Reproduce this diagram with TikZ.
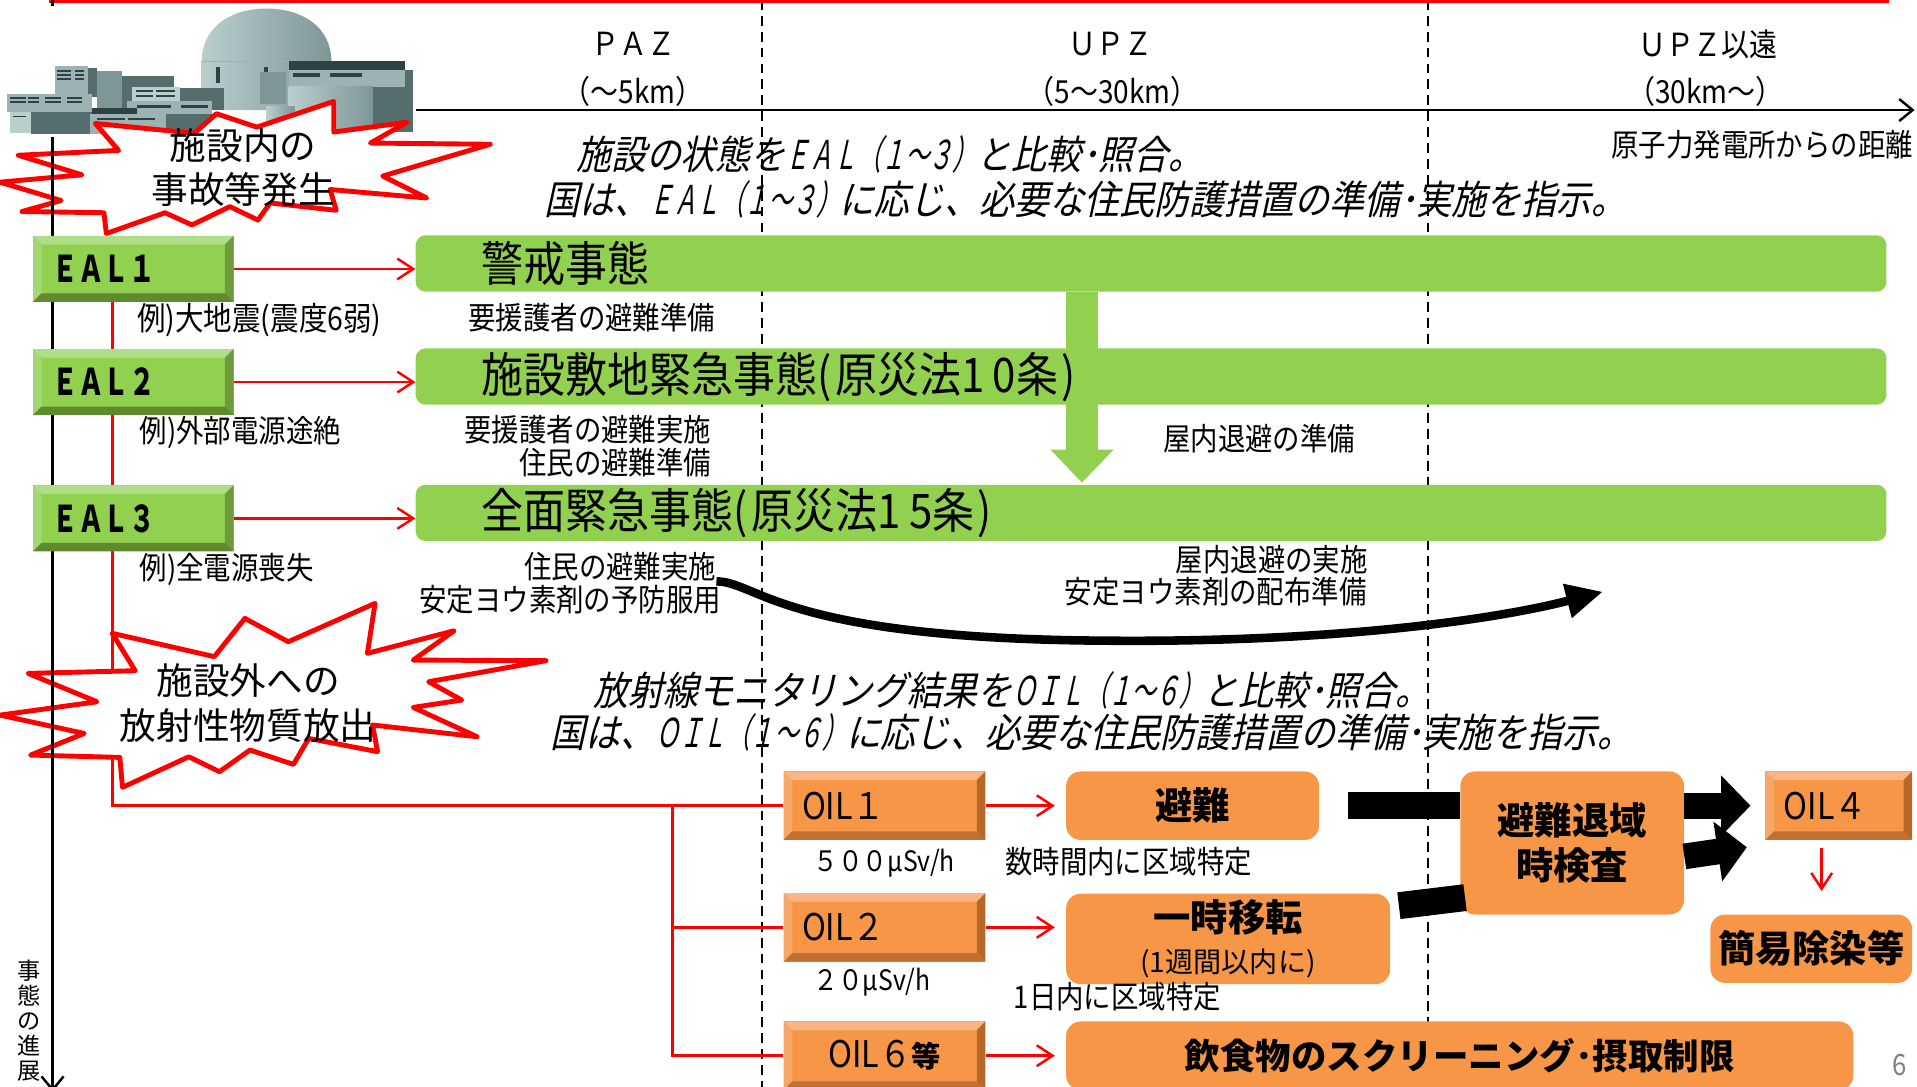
\documentclass[tikz,border=0pt]{standalone}
\usepackage{fontspec}
\setmainfont{Noto Sans CJK JP}[FakeStretch=0.88]
\newfontfamily\jpwide{Noto Sans CJK JP}
\newfontfamily\jpnarrow{Noto Sans CJK JP}[FakeStretch=0.7]
\newfontfamily\jpslant{Noto Sans CJK JP}[FakeStretch=0.88,FakeSlant=0.22]
\newfontfamily\jpslantn{Noto Sans CJK JP}[FakeStretch=0.6,FakeSlant=0.22]
\usetikzlibrary{arrows.meta}
\pgfdeclarelayer{bg}
\pgfsetlayers{bg,main}
\newcommand\sz[2]{\fontsize{#1}{#2}\selectfont}
% colours
\definecolor{barg}{HTML}{92D050}
\definecolor{ealtop}{HTML}{B0DE88}
\definecolor{ealleft}{HTML}{A4D672}
\definecolor{ealright}{HTML}{6E9B3C}
\definecolor{ealbot}{HTML}{5F8A30}
\definecolor{oilface}{HTML}{F79646}
\definecolor{oiltop}{HTML}{FAB585}
\definecolor{oilleft}{HTML}{F9A66A}
\definecolor{oilright}{HTML}{B8692A}
\definecolor{oilbot}{HTML}{C07030}
\definecolor{pl1}{HTML}{BACECE}
\definecolor{pl2}{HTML}{9DB2B2}
\definecolor{pl3}{HTML}{7E9696}
\definecolor{pl4}{HTML}{566D6D}
\definecolor{pl5}{HTML}{2F4242}
\tikzset{
  bevel/.style n args={5}{fill=#1,path picture={
    \fill[#2] (path picture bounding box.north west) -- (path picture bounding box.north east)
      -- ([shift={(-7pt,-7pt)}]path picture bounding box.north east) -- ([shift={(7pt,-7pt)}]path picture bounding box.north west) -- cycle;
    \fill[#3] (path picture bounding box.north west) -- ([shift={(7pt,-7pt)}]path picture bounding box.north west)
      -- ([shift={(7pt,7pt)}]path picture bounding box.south west) -- (path picture bounding box.south west) -- cycle;
    \fill[#4] (path picture bounding box.north east) -- ([shift={(-7pt,-7pt)}]path picture bounding box.north east)
      -- ([shift={(-7pt,7pt)}]path picture bounding box.south east) -- (path picture bounding box.south east) -- cycle;
    \fill[#5] (path picture bounding box.south west) -- ([shift={(7pt,7pt)}]path picture bounding box.south west)
      -- ([shift={(-7pt,7pt)}]path picture bounding box.south east) -- (path picture bounding box.south east) -- cycle;
  }},
}
\begin{document}
\begin{tikzpicture}[x=1pt,y=-1pt,
  ealbox/.style={bevel={barg}{ealtop}{ealleft}{ealright}{ealbot},minimum height=54pt,text width=132pt,inner xsep=16pt,inner ysep=0pt,align=left,font=\jpnarrow\bfseries\sz{30}{32}},
  oilbox/.style={bevel={oilface}{oiltop}{oilleft}{oilright}{oilbot},minimum height=56pt,text width=135pt,inner xsep=15pt,inner ysep=0pt,align=left,font=\sz{30}{32}},
  bar/.style={fill=barg,rounded corners=8pt,minimum height=46pt,text width=1095pt,inner xsep=54pt,inner ysep=0pt,align=left,font=\sz{39}{42}},
  act/.style={fill=oilface,rounded corners=12pt,inner sep=0pt,align=center,font=\jpwide\bfseries\sz{30.5}{37}},
  note/.style={inner sep=0pt,font=\sz{25.5}{30}},
  zonelbl/.style={inner sep=0pt,font=\sz{26}{30}},
  slantnote/.style={inner sep=0pt,anchor=west,font=\jpslant\sz{32.5}{36}},
  burst/.style={fill=white,draw=red,line width=4pt,line join=round},
  burstlbl/.style={inner sep=0pt,align=center,font=\jpwide\sz{30}{36.5}},
  redline/.style={red,line width=2pt},
  redarrow/.style={redline,-{Straight Barb[length=13pt,width=17pt]}},
  axisline/.style={line width=2pt},
  zone/.style={line width=1.5pt,dash pattern=on 8pt off 5pt},
  blk/.style={line width=22pt},
  blkarrow/.style={line width=21pt,-{Triangle[length=24pt,width=48pt]}},
  garrow/.style={draw=barg,line width=26pt,-{Triangle[length=27pt,width=50pt]}},
  curvearrow/.style={line width=7pt,-{Triangle[length=30pt,width=27pt]}}]
  \useasboundingbox (0,0) rectangle (1568,889);

  %plant
  \shade[left color=pl1,right color=pl3] (165,90) -- (165,50) .. controls (165,22) and (189,7) .. (218,7)
     .. controls (247,7) and (271,22) .. (271,50) -- (271,90) -- cycle;
  \draw[pl2,line width=1pt] (165,50) -- (271,50);
  \fill[pl5] (177,55) rectangle (180,68);
  \fill[pl5] (216,55) rectangle (219,68);
  \fill[pl2] (236,57) rectangle (331,71);
  \fill[pl5] (236,50) rectangle (331,57);
  \fill[pl5] (240,60) rectangle (262,63);
  \fill[pl5] (270,60) rectangle (296,63);
  \fill[pl4] (331,57) rectangle (338,108);
  \shade[left color=pl1,right color=pl3] (236,71) rectangle (305,108);
  \fill[pl4] (305,71) rectangle (331,108);
  \fill[pl3] (213,59) rectangle (234,85);
  \shade[left color=pl1,right color=pl3] (218,87) rectangle (241,108);
  \fill[pl2] (45,54) rectangle (72,79);
  \fill[pl4] (72,56) rectangle (79,79);
  \foreach \y in {57,60.5,64} {
    \fill[pl5] (47,\y) rectangle (58,\y+1.5);
    \fill[pl5] (61,\y) rectangle (69,\y+1.5);
  }
  \fill[pl3] (79,58) rectangle (100,90);
  \fill[pl4] (100,62) rectangle (142,90);
  \fill[pl1] (108,71) rectangle (147,83);
  \fill[pl4] (147,72) rectangle (183,90);
  \foreach \y in {74,77.5} {
    \fill[pl5] (111,\y) rectangle (125,\y+1.5);
    \fill[pl5] (128,\y) rectangle (143,\y+1.5);
  }
  \fill[pl2] (104,83) rectangle (173,94);
  \fill[pl5] (112,86) rectangle (140,88);
  \fill[pl5] (148,86) rectangle (170,88);
  \fill[pl2] (6,77) rectangle (75,92);
  \foreach \a/\b in {8/21,23/32,37/50,55/67} {
    \fill[pl5] (\a,79.5) rectangle (\b,81);
    \fill[pl5] (\a,83) rectangle (\b,84.5);
  }
  \fill[pl4] (25,92) rectangle (75,110);
  \fill[pl1] (8,92) rectangle (25,109);
  \fill[pl5] (11,94.5) rectangle (21,96);
  \fill[pl5] (75,88) rectangle (112,93);
  \fill[pl2] (74,93) rectangle (136,110);
  \fill[pl5] (79,96.5) rectangle (102,98.5);
  \fill[pl5] (105,96.5) rectangle (127,98.5);
  \fill[pl4] (136,93) rectangle (173,108);

  %top rule
  \draw[red,line width=4.5pt] (40,0) -- (1545,0);

  %incident inside the plant
  \draw[burst] (78,101) -- (97,123) -- (15,127) -- (67,143) -- (0,149) -- (50,164) -- (18,173) -- (85,174)
     -- (87,191) -- (135,174) -- (157,184) -- (188,169) -- (211,180) -- (221,166) -- (275,172) -- (270,155)
     -- (349,162) -- (313,144) -- (401,118) -- (303,117) -- (333,100) -- (273,108) -- (273,83) -- (210,104)
     -- (177,93) -- (159,109) -- cycle;
  %release outside the plant
  \draw[burst] (91.8,518) -- (175.3,537.1) -- (200.3,505.8) -- (235.8,524.9) -- (306.8,493.5) -- (300.5,534.4)
     -- (371.5,515.9) -- (338,539.9) -- (446.6,540.4) -- (350.6,557.6) -- (377.7,572.6) -- (338,578.6)
     -- (390.2,602.6) -- (304.7,593) -- (308.8,614.8) -- (252.5,604) -- (240,625.2) -- (204.5,613.5)
     -- (179.5,631.2) -- (154.4,619) -- (100.2,644) -- (98,619.5) -- (25,617.6) -- (68.9,599.9)
     -- (0,584.9) -- (79.3,574) -- (23,550.8) -- (110.6,548.6) -- cycle;

  %axis
  \draw[axisline,-{Straight Barb[length=11pt,width=18pt]}] (340,90) -- (1566,90);
  \draw[axisline] (43,0) -- (43,5);
  \draw[axisline,-{Straight Barb[length=11pt,width=18pt]}] (43,112) -- (43,893);
  \node[inner sep=0pt,anchor=north,align=center,font=\jpwide\sz{19}{20.5}] (prog) at (23.5,785) {事\\態\\の\\進\\展};

  \node[zonelbl] (paz) at (518,36) {ＰＡＺ};
  \node[zonelbl] (pazkm) at (518,75) {（～5km）};
  \node[zonelbl] (upz) at (908,36) {ＵＰＺ};
  \node[zonelbl] (upzkm) at (910,75) {（5～30km）};
  \node[zonelbl] (far) at (1397,36) {ＵＰＺ以遠};
  \node[zonelbl] (farkm) at (1395,75) {（30km～）};
  \node[note,anchor=east] (dist) at (1565,118) {原子力発電所からの距離};

  \node[burstlbl] (inside) at (199,137) {施設内の\\事故等発生};
  \node[burstlbl] (outside) at (203,575) {施設外への\\放射性物質放出};

  \node[slantnote] (eala) at (471,126) {施設の状態を{\jpslantn ＥＡＬ（１～３）}と比較･照合。};
  \node[slantnote] (ealb) at (445,163) {国は、{\jpslantn ＥＡＬ（１～３）}に応じ、必要な住民防護措置の準備･実施を指示。};
  \node[slantnote] (oila) at (485,565) {放射線モニタリング結果を{\jpslantn ＯＩＬ（１～６）}と比較･照合。};
  \node[slantnote] (oilb) at (450,599) {国は、{\jpslantn ＯＩＬ（１～６）}に応じ、必要な住民防護措置の準備･実施を指示。};

  %EAL
  \node[ealbox] (eal1) at (109,220) {ＥＡＬ１};
  \node[ealbox] (eal2) at (109,312.5) {ＥＡＬ２};
  \node[ealbox] (eal3) at (109,424) {ＥＡＬ３};
  \node[bar] (bar1) at (941.5,215.5) {警戒事態};
  \node[bar] (bar2) at (941.5,308) {施設敷地緊急事態(\kern3pt 原災法1\kern7pt 0条\kern3pt)};
  \node[bar] (bar3) at (941.5,419.5) {全面緊急事態(\kern3pt 原災法1\kern7pt 5条\kern3pt)};
  \draw[redarrow] (eal1.east) -- (eal1.east -| bar1.west);
  \draw[redarrow] (eal2.east) -- (eal2.east -| bar2.west);
  \draw[redarrow] (eal3.east) -- (eal3.east -| bar3.west);

  \node[note,anchor=west,font=\sz{26.5}{30}] (ex1) at (112,262) {例)大地震(震度6弱)};
  \node[note] (n1) at (484,259.5) {要援護者の避難準備};
  \node[note,anchor=west] (ex2) at (114,354) {例)外部電源途絶};
  \node[note,anchor=east] (n2a) at (582,351.5) {要援護者の避難実施};
  \node[note,anchor=east] (n2b) at (582,378) {住民の避難準備};
  \node[note] (n2c) at (1030,358.5) {屋内退避の準備};
  \node[note,anchor=west] (ex3) at (114,466) {例)全電源喪失};
  \node[note,anchor=east] (n3a) at (586,463.5) {住民の避難実施};
  \node[note,anchor=east] (n3b) at (590,490.5) {安定ヨウ素剤の予防服用};
  \node[note,anchor=east] (n3c) at (1119,458) {屋内退避の実施};
  \node[note,anchor=east] (n3d) at (1118,484) {安定ヨウ素剤の配布準備};

  %OIL
  \node[oilbox] (oil1) at (723.5,659) {OIL１};
  \node[oilbox] (oil2) at (723.5,758.5) {OIL２};
  \node[oilbox,align=center] (oil6) at (723.5,863.5) {OIL６{\jpwide\bfseries\sz{24}{26}等}};
  \node[oilbox,text width=90pt] (oil4) at (1504,659) {OIL４};
  \node[act,minimum width=207pt,minimum height=56pt] (evac) at (975.5,659) {避難};
  \node[act,minimum width=265pt,minimum height=74pt] (reloc) at (1004.5,768) {一時移転\\[-3pt]{\mdseries\sz{23}{26}(1週間以内に)}};
  \node[act,minimum width=183pt,minimum height=117pt] (check) at (1286,689.5) {避難退域\\時検査};
  \node[act,minimum width=165pt,minimum height=56pt] (decon) at (1481.5,776) {簡易除染等};
  \node[act,minimum width=644pt,minimum height=56pt,font=\jpwide\bfseries\sz{29}{32}] (food) at (1194,863.5) {飲食物のスクリーニング･摂取制限};
  \draw[redarrow,shorten >=9pt] (oil1.east) -- (oil1.east -| evac.west);
  \draw[redarrow,shorten >=9pt] (oil2.east) -- (oil2.east -| reloc.west);
  \draw[redarrow,shorten >=9pt] (oil6.east) -- (oil6.east -| food.west);
  \draw[redarrow,shorten <=6pt,shorten >=19pt] ([xshift=-14pt]oil4.south) -- ([xshift=-14pt]oil4.south |- decon.north);
  \draw[blk,shorten <=23pt] (evac.east) -- (evac.east -| check.west);
  \draw[blk] ([shift={(7pt,-10pt)}]reloc.north east) -- ([shift={(4pt,14pt)}]check.south west);
  \draw[blkarrow,shorten >=12pt] (check.east |- oil4.west) -- (oil4.west);
  \draw[blkarrow] ([yshift=-11pt]check.east) -- ([shift={(-15pt,-34pt)}]oil4.west);

  \node[note,anchor=west,font=\sz{23}{26}] (d1) at (665,706) {５００μSv/h};
  \node[note,anchor=west] (t1) at (822,704.5) {数時間内に区域特定};
  \node[note,anchor=west,font=\sz{23}{26}] (d2) at (665,803) {２０μSv/h};
  \node[note,anchor=west] (t2) at (829,815.5) {1日内に区域特定};
  \node[inner sep=0pt,text=gray,font=\sz{24}{26}] (page) at (1554,871) {6};

  %curved arrow
  \coordinate (shelter) at (1311,484);
  \draw[curvearrow] (n3a.south east) .. controls (620,476) and (640,522) .. (900,524)
     .. controls (1100,526) and (1230,505) .. (shelter);

  %connectors, zones
  \coordinate (trunk) at (92,659);
  \coordinate (fork) at (550,659);
  \begin{pgfonlayer}{bg}
    \draw[zone] (623,0) -- (623,889);
    \draw[zone] (1168,0) -- (1168,889);
    \draw[garrow] ([xshift=-56.5pt]bar1.south) -- ([xshift=-56.5pt,yshift=1.5pt]bar3.north);
    \draw[redline] (eal1.south -| trunk) -- (trunk) -- (oil1.west);
    \draw[redline] (fork) |- (oil2.west);
    \draw[redline] (fork) |- (oil6.west);
  \end{pgfonlayer}
\end{tikzpicture}
\end{document}
